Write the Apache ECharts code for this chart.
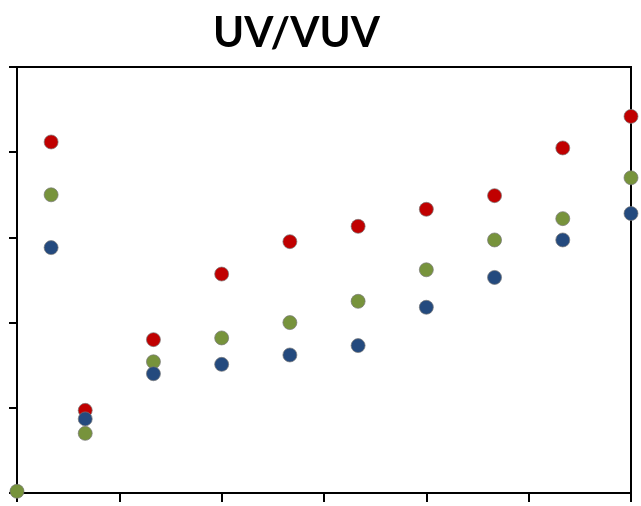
<!DOCTYPE html>
<html>
<head>
<meta charset="utf-8">
<title>UV/VUV</title>
<script src="https://cdn.jsdelivr.net/npm/echarts@6/dist/echarts.min.js"></script>
<style>
  html, body { margin: 0; padding: 0; background: #fff; }
  #chart { width: 641px; height: 506px; }
</style>
</head>
<body>
<div id="chart"></div>
<script>
// Sample positions along the x axis
const xValues = [0, 1, 2, 4, 6, 8, 10, 12, 14, 16, 18];

// Measured values for each series (null where no point was taken)
const redValues   = [null, 4.12, 0.97, 1.80, 2.57, 2.95, 3.13, 3.33, 3.49, 4.05, 4.42];
const greenValues = [0.02, 3.50, 0.70, 1.54, 1.82, 2.00, 2.25, 2.62, 2.97, 3.22, 3.70];
const blueValues  = [null, 2.88, 0.87, 1.40, 1.51, 1.62, 1.73, 2.18, 2.53, 2.97, 3.28];

const titleText = 'UV/VUV';

function pairs(values) {
  const out = [];
  values.forEach((v, i) => { if (v !== null) out.push([xValues[i], v]); });
  return out;
}

function dotSeries(name, color, values) {
  return {
    name: name,
    type: 'scatter',
    clip: false,
    symbol: 'circle',
    symbolSize: 14,
    itemStyle: { color: color, opacity: 1, borderColor: 'rgba(120,120,120,0.7)', borderWidth: 1 },
    data: pairs(values)
  };
}

const chart = echarts.init(document.getElementById('chart'), null, { renderer: 'canvas' });
chart.setOption({
  animation: false,
  backgroundColor: '#ffffff',
  title: {
    text: titleText,
    left: 208,
    top: 7,
    textStyle: { fontFamily: 'Lato', fontWeight: 'bold', fontSize: 42, color: '#000' }
  },
  grid: {
    left: 17, right: 10, top: 67, bottom: 13,
    show: true, borderColor: '#000', borderWidth: 2, backgroundColor: 'transparent'
  },
  xAxis: {
    type: 'value', min: 0, max: 18, interval: 3,
    axisLine: { show: true, lineStyle: { color: '#000', width: 2 } },
    axisTick: { show: true, inside: false, length: 9, lineStyle: { color: '#000', width: 2 } },
    axisLabel: { show: false },
    splitLine: { show: false }
  },
  yAxis: {
    type: 'value', min: 0, max: 5, interval: 1,
    axisLine: { show: true, lineStyle: { color: '#000', width: 2 } },
    axisTick: { show: true, inside: false, length: 8, lineStyle: { color: '#000', width: 2 } },
    axisLabel: { show: false },
    splitLine: { show: false }
  },
  series: [
    dotSeries('red', '#C00000', redValues),
    dotSeries('green', '#77933C', greenValues),
    dotSeries('blue', '#244A7E', blueValues)
  ]
});
</script>
</body>
</html>
